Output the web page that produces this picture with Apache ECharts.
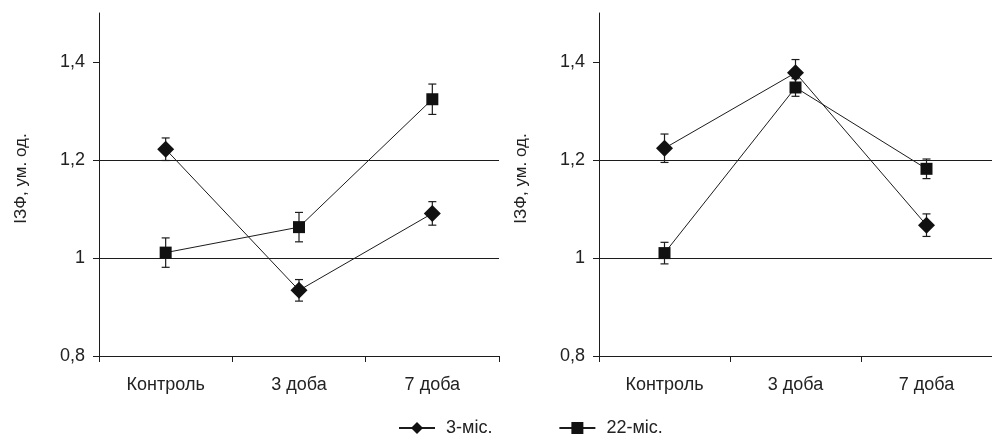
<!DOCTYPE html>
<html>
<head>
<meta charset="utf-8">
<script src="https://cdn.jsdelivr.net/npm/echarts@6/dist/echarts.min.js"></script>
<style>
html,body{margin:0;padding:0;background:#fff;}
#c{width:992px;height:436px;}
</style>
</head>
<body>
<div id="c"></div>
<script>
// ---- data ----
var categories = ['Контроль', '3 доба', '7 доба'];
var seriesNames = ['3-міс.', '22-міс.'];
var yTickValues = [0.8, 1.0, 1.2, 1.4];
var yTickLabels = ['0,8', '1', '1,2', '1,4'];
var yAxisTitle = 'ІЗФ, ум. од.';

// left panel
var left3 = [1.222, 0.934, 1.091];
var left3Err = [0.023, 0.022, 0.024];
var left22 = [1.011, 1.063, 1.324];
var left22Err = [0.030, 0.030, 0.031];
// right panel
var right3 = [1.224, 1.378, 1.067];
var right3Err = [0.029, 0.027, 0.023];
var right22 = [1.010, 1.348, 1.182];
var right22Err = [0.022, 0.018, 0.020];

// ---- chart ----
var FONT = '"Liberation Sans", Arial, sans-serif';
var INK = '#1c1c1c';

function labelFor(v) {
  for (var i = 0; i < yTickValues.length; i++) {
    if (Math.abs(yTickValues[i] - v) < 1e-6) return yTickLabels[i];
  }
  return '';
}

function errData(vals, errs) {
  return vals.map(function (v, i) { return [i, v - errs[i], v + errs[i]]; });
}

function errRender(params, api) {
  var x = api.value(0);
  var lo = api.coord([x, api.value(1)]);
  var hi = api.coord([x, api.value(2)]);
  var cw = 4;
  var st = { stroke: INK, lineWidth: 1.2 };
  return {
    type: 'group',
    children: [
      { type: 'line', shape: { x1: lo[0], y1: lo[1], x2: hi[0], y2: hi[1] }, style: st },
      { type: 'line', shape: { x1: lo[0] - cw, y1: lo[1], x2: lo[0] + cw, y2: lo[1] }, style: st },
      { type: 'line', shape: { x1: hi[0] - cw, y1: hi[1], x2: hi[0] + cw, y2: hi[1] }, style: st }
    ]
  };
}

function xAxis(gi) {
  return {
    type: 'category', gridIndex: gi, data: categories,
    boundaryGap: true,
    axisLine: { show: true, lineStyle: { color: INK, width: 1 } },
    axisTick: { show: true, length: 6, lineStyle: { color: INK } },
    axisLabel: { color: '#222', fontFamily: FONT, fontSize: 18, margin: 20 },
    splitLine: { show: false }
  };
}
function yAxis(gi) {
  return {
    type: 'value', gridIndex: gi, min: 0.8, max: 1.5, interval: 0.2,
    name: yAxisTitle, nameLocation: 'middle', nameGap: 69,
    nameTextStyle: { color: '#222', fontFamily: FONT, fontSize: 17, padding: [0, 0, 0, 12] },
    axisLine: { show: true, lineStyle: { color: INK, width: 1 } },
    axisTick: { show: true, length: 6, lineStyle: { color: INK }, customValues: yTickValues },
    axisLabel: { color: '#222', fontFamily: FONT, fontSize: 18, margin: 14,
      customValues: yTickValues, formatter: labelFor },
    splitLine: { show: true, showMinLine: false, showMaxLine: false,
      lineStyle: { color: INK, width: 1 } }
  };
}

function lineSeries(name, data, gi, symbol, size) {
  return {
    name: name, type: 'line', xAxisIndex: gi, yAxisIndex: gi, data: data,
    symbol: symbol, symbolSize: size, showSymbol: true,
    lineStyle: { color: INK, width: 1 },
    itemStyle: { color: '#111', borderWidth: 0 },
    z: 3, animation: false
  };
}
function errSeries(vals, errs, gi) {
  return {
    type: 'custom', xAxisIndex: gi, yAxisIndex: gi,
    data: errData(vals, errs), renderItem: errRender,
    encode: { x: 0, y: [1, 2] }, z: 2, animation: false, silent: true
  };
}

var chart = echarts.init(document.getElementById('c'), null, { renderer: 'canvas' });
chart.setOption({
  backgroundColor: '#fff',
  animation: false,
  grid: [
    { left: 99, top: 13, width: 400, height: 343 },
    { left: 599, top: 13, width: 400, height: 343 }
  ],
  xAxis: [xAxis(0), xAxis(1)],
  yAxis: [yAxis(0), yAxis(1)],
  legend: {
    left: 398, top: 419, padding: 0, itemGap: 66, itemWidth: 36, itemHeight: 15,
    data: seriesNames,
    textStyle: { color: '#222', fontFamily: FONT, fontSize: 18, padding: [0, 0, 0, 6] }
  },
  series: [
    errSeries(left3, left3Err, 0),
    errSeries(left22, left22Err, 0),
    errSeries(right3, right3Err, 1),
    errSeries(right22, right22Err, 1),
    lineSeries(seriesNames[0], left3, 0, 'diamond', [17, 17]),
    lineSeries(seriesNames[1], left22, 0, 'rect', 12),
    lineSeries(seriesNames[0], right3, 1, 'diamond', [17, 17]),
    lineSeries(seriesNames[1], right22, 1, 'rect', 12)
  ]
});
</script>
</body>
</html>
